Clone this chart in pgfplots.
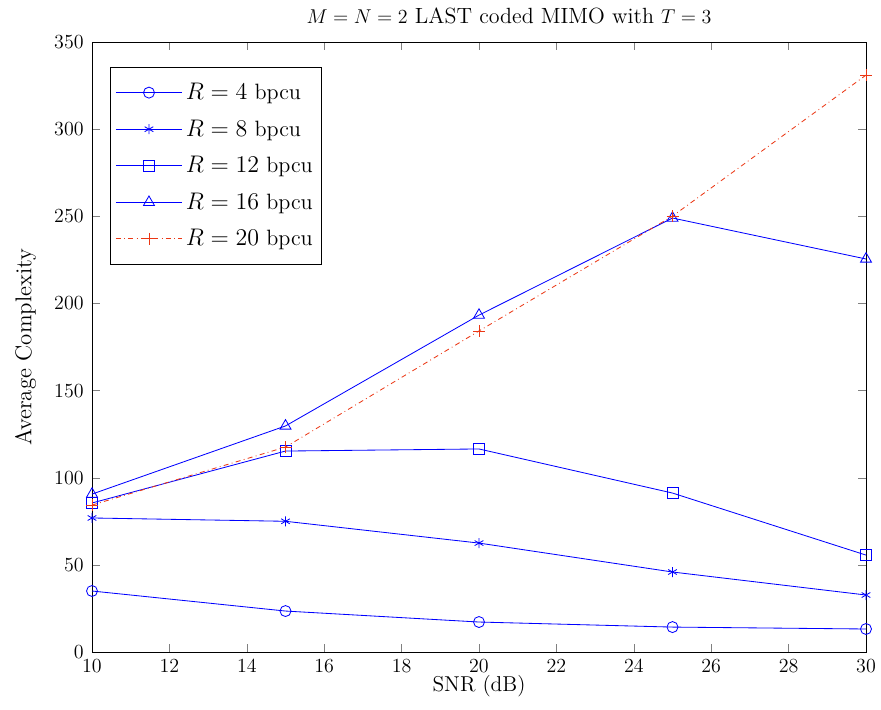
\documentclass[border=0pt]{standalone}
\usepackage{pgfplots}
\pgfplotsset{compat=1.18}
\definecolor{mred}{RGB}{235,55,20}
\newcommand{\bigf}{\fontsize{12.6}{15}\selectfont}
\newcommand{\legf}{\fontsize{13.3}{16}\selectfont}
\newcommand{\titf}{\fontsize{13.2}{16}\selectfont}
\newcommand{\xlf}{\fontsize{12.9}{15}\selectfont}
\newcommand{\ylf}{\fontsize{13.7}{16}\selectfont}
\begin{document}
\begin{tikzpicture}
\begin{axis}[
  scale only axis,
  width=464.4pt, height=366pt,
  xmin=10, xmax=30, ymin=0, ymax=350,
  xtick={10,12,...,30}, ytick={0,50,...,350},
  tick align=inside,
  xtick pos=both, ytick pos=both,
  major tick length=5pt,
  tick label style={font=\bigf},
  yticklabel style={xshift=-1.5pt},
  xticklabel style={yshift=-1pt},
  xlabel style={font=\xlf, yshift=5pt},
  ylabel style={font=\ylf, yshift=4pt},
  title style={font=\titf, yshift=1.5pt, xshift=18pt},
  xlabel={SNR (dB)}, ylabel={Average Complexity},
  title={$M=N=2$ LAST coded MIMO with $T=3$},
  legend cell align=left,
  legend style={at={(0.0233,0.959)}, anchor=north west, draw=black, row sep=6.6pt,
    inner xsep=3pt, inner ysep=7.5pt, font=\legf},
  legend image code/.code={\draw[mark repeat=2,mark phase=2] plot coordinates {(0cm,0cm) (0.7cm,0cm) (1.4cm,0cm)};},
  every axis plot/.append style={line width=0.5pt},
]
\addplot[blue, mark=o, mark size=3.3pt] coordinates {(10,35) (15,23.5) (20,17.2) (25,14.3) (30,13.2)};
\addlegendentry{$R=4$ bpcu}
\addplot[blue, mark=asterisk, mark size=3pt] coordinates {(10,76.9) (15,75) (20,62.5) (25,45.9) (30,32.7)};
\addlegendentry{$R=8$ bpcu}
\addplot[blue, mark=square, mark size=3.3pt] coordinates {(10,85.5) (15,115.3) (20,116.5) (25,91.2) (30,55.6)};
\addlegendentry{$R=12$ bpcu}
\addplot[blue, mark=triangle, mark size=3.8pt] coordinates {(10,90.6) (15,129.7) (20,193.3) (25,249) (30,225.5)};
\addlegendentry{$R=16$ bpcu}
\addplot[mred, dash dot, mark=+, mark size=3.6pt, mark options={solid}] coordinates {(10,84.3) (15,117.6) (20,184.2) (25,250.1) (30,331)};
\addlegendentry{$R=20$ bpcu}
\end{axis}
\pgfresetboundingbox
\path[use as bounding box] ([shift={(-55.2pt,-34.2pt)}]current axis.south west) rectangle ([shift={(9pt,25.2pt)}]current axis.north east);
\end{tikzpicture}
\end{document}
